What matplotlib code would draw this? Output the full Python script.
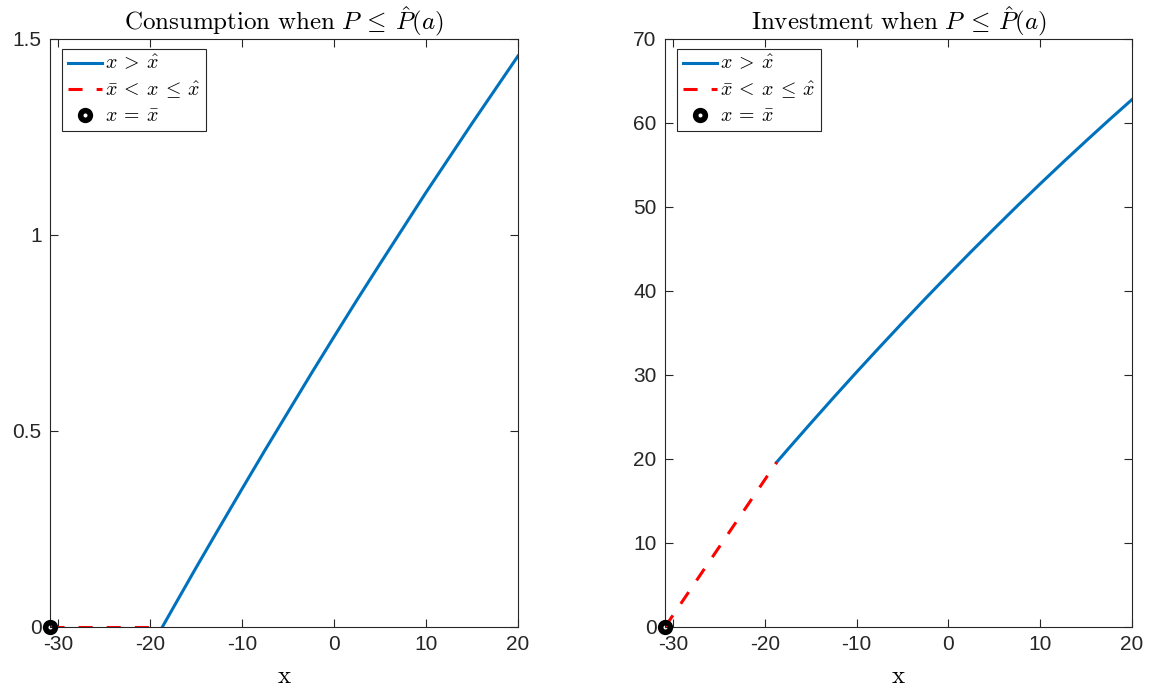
import matplotlib
matplotlib.use("Agg")
import matplotlib.pyplot as plt

plt.rcParams['font.family'] = ['Liberation Sans', 'DejaVu Sans']
plt.rcParams['mathtext.fontset'] = 'cm'

# kink points
xbar = -30.87
xhat_c = -18.66
xhat_i = -18.71

# consumption, x > xhat
cons_x = [-18.66, -17.5, -15, -12.5, -10, -7.5, -5, -2.5, 0, 2.5, 5, 7.5, 10, 12.5, 15, 17.5, 20]
cons_y = [0.0, 0.048, 0.151, 0.252, 0.352, 0.451, 0.548, 0.645, 0.740, 0.834, 0.926,
          1.017, 1.108, 1.196, 1.284, 1.370, 1.456]

# investment, x > xhat
inv_x = [-18.71, -17.5, -15, -12.5, -10, -7.5, -5, -2.5, 0, 2.5, 5, 7.5, 10, 12.5, 15, 17.5, 20]
inv_y = [19.6, 21.13, 24.24, 27.31, 30.33, 33.29, 36.21, 39.09, 41.91, 44.69, 47.41,
         50.10, 52.73, 55.31, 57.84, 60.33, 62.76]

# region xbar < x <= xhat
cons_mid_y = [0.0, 0.0]
inv_mid_y = [0.0, 19.6]

xticks = [-30, -20, -10, 0, 10, 20]
cons_yticks = [0, 0.5, 1, 1.5]
cons_yticklabels = ['0', '0.5', '1', '1.5']
inv_yticks = [0, 10, 20, 30, 40, 50, 60, 70]

blue = '#0072BD'
grey = '#262626'

fig = plt.figure(figsize=(11.58, 6.91), dpi=100)
ax1 = fig.add_axes([50 / 1158, 64 / 691, 468 / 1158, 588.3 / 691])
ax2 = fig.add_axes([665 / 1158, 64 / 691, 467 / 1158, 588.3 / 691])

panels = [
    (ax1, cons_x, cons_y, [xbar, xhat_c], cons_mid_y, (0, 1.5), cons_yticks, cons_yticklabels,
     r'$\mathrm{Consumption\ when\ }P\:\leq\:\hat{P}(a)$'),
    (ax2, inv_x, inv_y, [xbar, xhat_i], inv_mid_y, (0, 70), inv_yticks, [str(t) for t in inv_yticks],
     r'$\mathrm{Investment\ when\ }P\:\leq\:\hat{P}(a)$'),
]

for ax, bx, by, rx, ry, ylim, yt, ytl, title in panels:
    ax.plot(bx, by, color=blue, lw=2.2, label=r'$x\:>\:\hat{x}$')
    ax.plot(rx, ry, color='red', lw=2.2, dashes=(4.6, 4.6), label=r'$\bar{x}\:<\:x\:\leq\:\hat{x}$')
    ax.plot([xbar], [0], 'o', color='black', mfc='none', mew=4, ms=7,
            clip_on=False, zorder=5, label=r'$x\:=\:\bar{x}$')
    ax.set_xlim(xbar, 20)
    ax.set_ylim(*ylim)
    ax.set_xticks(xticks)
    ax.set_xticklabels([str(t) for t in xticks])
    ax.set_yticks(yt)
    ax.set_yticklabels(ytl)
    ax.tick_params(direction='in', top=True, right=True, length=6, width=0.8,
                   labelsize=15, colors=grey, pad=6)
    for s in ax.spines.values():
        s.set_color(grey)
        s.set_linewidth(0.8)
    ax.set_title(title, fontsize=18, pad=6)
    ax.set_xlabel(r'$\mathrm{x}$', fontsize=18, labelpad=7)
    leg = ax.legend(loc='upper left', bbox_to_anchor=(12 / 468, 1 - 10 / 588),
                    borderaxespad=0, fontsize=14.3, fancybox=False, framealpha=1,
                    edgecolor=grey, handlelength=1.75, handletextpad=0.15,
                    labelspacing=0.3, borderpad=0.28)
    leg.get_frame().set_linewidth(0.8)

fig.savefig('out.png', dpi=100)
